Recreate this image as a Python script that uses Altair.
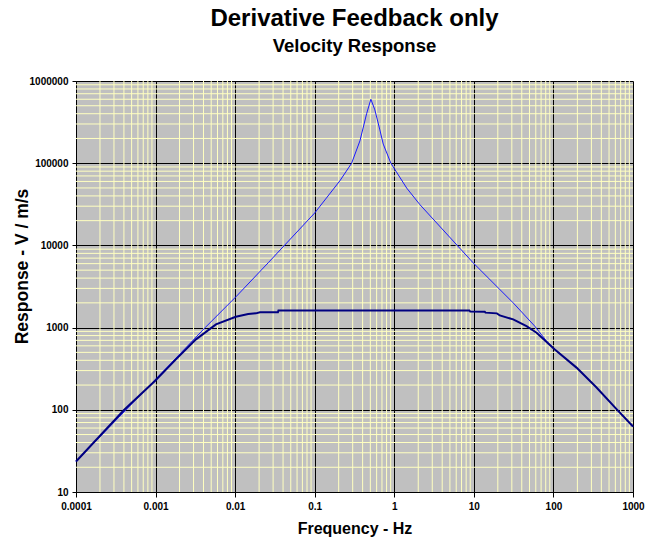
import altair as alt
import pandas as pd

# Thin blue curve (readings from the reference)
thin_freq = [0.0001, 0.001, 0.0042, 0.0104, 0.026, 0.1, 0.207, 0.291, 0.37, 0.449,
             0.508, 0.57, 0.659, 0.726, 0.906, 1.43, 2.1, 9.8, 31.2, 58.3, 81.8,
             104, 195, 348, 621, 1000]
thin_resp = [23.5, 235, 1000, 2410, 6140, 24800, 61000, 100000, 187000, 400000,
             600000, 445000, 254000, 171000, 100000, 49900, 31300, 6140, 2000, 1040, 686,
             543, 326, 187, 102, 62.7]

# Thick navy curve
thick_freq = [0.0001, 0.000404, 0.00098, 0.0018, 0.00322, 0.00574, 0.0102, 0.0146, 0.0182,
              0.0205, 0.0345, 0.035, 8.8, 9.0, 13.7, 14.0, 19.5, 21.2, 31.2, 45.9,
              61.4, 104, 195, 348, 621, 1000]
thick_resp = [23.5, 100, 224, 411, 719, 1094, 1356, 1460, 1490,
              1540, 1540, 1615, 1615, 1570, 1560, 1520, 1490, 1405, 1260, 1040,
              867, 543, 326, 187, 102, 62.7]

x_major = [0.0001, 0.001, 0.01, 0.1, 1, 10, 100, 1000]
y_major = [10, 100, 1000, 10000, 100000, 1000000]
x_minor = [m * 10.0 ** e for e in range(-4, 3) for m in range(2, 10)]
y_minor = [m * 10.0 ** e for e in range(1, 6) for m in range(2, 10)]

FONT = "Liberation Sans"

xscale = alt.Scale(type="log", domain=[0.0001, 1000], nice=False)
yscale = alt.Scale(type="log", domain=[10, 1000000], nice=False)

xaxis = alt.Axis(
    values=x_major, format="~f", grid=True, gridColor="#000000", gridWidth=1,
    gridOpacity=1, tickColor="#000000", tickSize=5, domainColor="#000000",
    labelFont=FONT, labelFontSize=10, labelFontWeight="bold", labelColor="#000000",
    labelPadding=4, labelFlush=False, labelOverlap=False,
    title="Frequency - Hz", titleFont=FONT, titleFontSize=16,
    titleFontWeight="bold", titleColor="#000000", titlePadding=9,
)
yaxis = alt.Axis(
    values=y_major, format="d", grid=True, gridColor="#000000", gridWidth=1,
    gridOpacity=1, tickColor="#000000", tickSize=4, domainColor="#000000",
    labelFont=FONT, labelFontSize=10, labelFontWeight="bold", labelColor="#000000",
    labelPadding=4, labelFlush=False, labelOverlap=False,
    title="Response - V / m/s", titleFont=FONT, titleFontSize=17.5,
    titleFontWeight="bold", titleColor="#000000",
    titleX=-54, titleY=185, titleBaseline="middle", titleAngle=270,
)

thin_df = pd.DataFrame({"f": thin_freq, "v": thin_resp})
thick_df = pd.DataFrame({"f": thick_freq, "v": thick_resp})

gx = alt.Chart(pd.DataFrame({"f": x_minor})).mark_rule(
    color="#FFFFC0", strokeWidth=1
).encode(x=alt.X("f:Q", scale=xscale, axis=xaxis))

gy = alt.Chart(pd.DataFrame({"v": y_minor})).mark_rule(
    color="#FFFFC0", strokeWidth=1
).encode(y=alt.Y("v:Q", scale=yscale, axis=yaxis))

thin = alt.Chart(thin_df).mark_line(color="#1a1aff", strokeWidth=1).encode(
    x=alt.X("f:Q", scale=xscale, axis=xaxis),
    y=alt.Y("v:Q", scale=yscale, axis=yaxis),
)
thick = alt.Chart(thick_df).mark_line(color="#000080", strokeWidth=2).encode(
    x=alt.X("f:Q", scale=xscale, axis=xaxis),
    y=alt.Y("v:Q", scale=yscale, axis=yaxis),
)

chart = alt.layer(gx, gy, thin, thick).properties(
    width=557,
    height=411,
    title=alt.TitleParams(
        "Derivative Feedback only",
        subtitle="Velocity Response",
        font=FONT, fontSize=24, fontWeight="bold", color="#000000",
        subtitleFont=FONT, subtitleFontSize=18.5, subtitleFontWeight="bold",
        subtitleColor="#000000", subtitlePadding=6, anchor="middle", offset=21,
    ),
    autosize=alt.AutoSizeParams(type="none"),
    padding={"left": 76, "top": 81, "right": 21, "bottom": 50},
    background="#FFFFFF",
).configure_view(fill="#C0C0C0", strokeWidth=0)

chart.save("out.html", embed_options={"renderer": "svg", "actions": False})
